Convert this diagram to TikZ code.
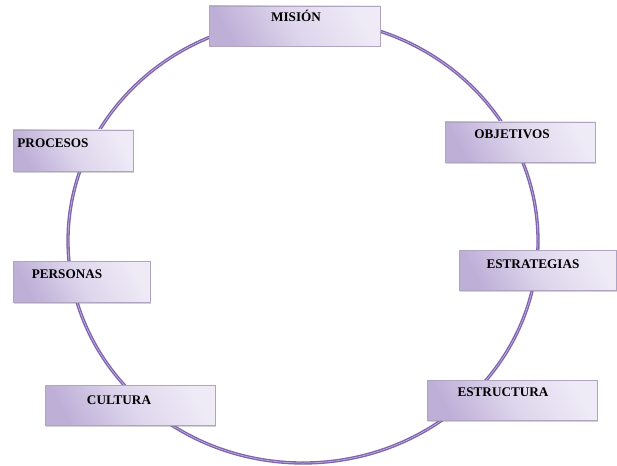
\documentclass[tikz,border=0pt]{standalone}
\usepackage{fontspec}
\setmainfont{Liberation Serif}
\usetikzlibrary{shadows}
\definecolor{circ}{RGB}{128,100,175}
\definecolor{circlight}{RGB}{205,195,228}
\definecolor{boxlight}{RGB}{238,234,246}
\definecolor{boxmid}{RGB}{222,214,236}
\definecolor{boxdark}{RGB}{190,175,215}
\definecolor{boxline}{RGB}{175,165,192}
\tikzset{
  box/.style={rectangle, draw=boxline, line width=0.6pt,
    left color=boxdark, right color=boxlight, middle color=boxmid, shading angle=120,
    drop shadow={shadow xshift=1.2pt, shadow yshift=-1.5pt, opacity=0.35, fill=gray},
    inner sep=0pt},
  txt/.style={font=\fontsize{13.2}{15}\selectfont\bfseries, text=black, inner sep=0pt, anchor=base},
  ring/.style={draw=circ, line width=1.4pt, double=circlight, double distance=0.5pt}
}
\begin{document}
\begin{tikzpicture}[x=1pt,y=-1pt]
\useasboundingbox (0,0) rectangle (617,465);
\draw[ring] (303,241) ellipse [x radius=235, y radius=222];
% boxes
\node[box, minimum width=171pt, minimum height=40pt] (mision) at (294.5,26) {};
\node[box, minimum width=120pt, minimum height=41pt] (procesos) at (73,150.5) {};
\node[box, minimum width=137pt, minimum height=41pt] (personas) at (81.5,281.5) {};
\node[box, minimum width=170pt, minimum height=40pt] (cultura) at (130,405) {};
\node[box, minimum width=150pt, minimum height=40pt] (objetivos) at (520,142) {};
\node[box, minimum width=157pt, minimum height=40pt] (estrategias) at (537.5,270) {};
\node[box, minimum width=170pt, minimum height=40pt] (estructura) at (512,400) {};
% texts
\node[txt] (tmision) at (296,22) {MISIÓN};
\node[txt] (tprocesos) at (53,147) {PROCESOS};
\node[txt] (tpersonas) at (67,278) {PERSONAS};
\node[txt] (tcultura) at (119,404) {CULTURA};
\node[txt] (tobjetivos) at (512,139) {OBJETIVOS};
\node[txt] (testrategias) at (533,268) {ESTRATEGIAS};
\node[txt] (testructura) at (503,396) {ESTRUCTURA};
\end{tikzpicture}
\end{document}
